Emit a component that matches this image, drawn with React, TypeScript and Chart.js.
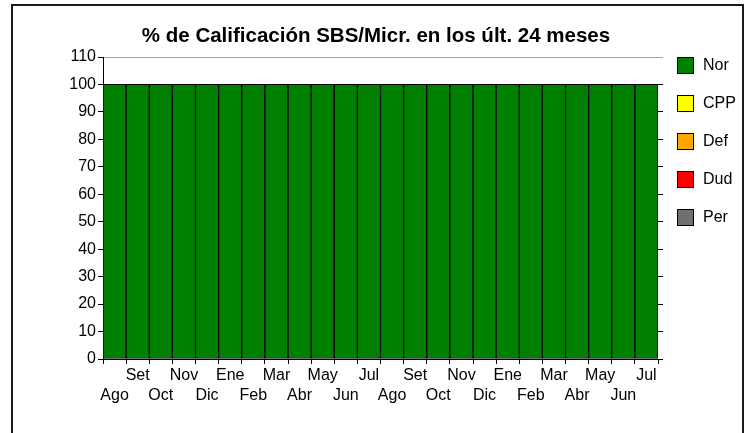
import React, { useEffect, useRef } from 'react';
import { Chart, registerables } from 'chart.js';

Chart.register(...registerables);

const chartTitle = '% de Calificación SBS/Micr. en los últ. 24 meses';
const months = ['Ago', 'Set', 'Oct', 'Nov', 'Dic', 'Ene', 'Feb', 'Mar', 'Abr', 'May', 'Jun', 'Jul',
  'Ago', 'Set', 'Oct', 'Nov', 'Dic', 'Ene', 'Feb', 'Mar', 'Abr', 'May', 'Jun', 'Jul'];
const seriesNames = ['Nor', 'CPP', 'Def', 'Dud', 'Per'];
const seriesColors = ['#008000', '#FFFF00', '#FFA500', '#FF0000', '#707070'];
const norValues = [100, 100, 100, 100, 100, 100, 100, 100, 100, 100, 100, 100,
  100, 100, 100, 100, 100, 100, 100, 100, 100, 100, 100, 100];
const cppValues = [0, 0, 0, 0, 0, 0, 0, 0, 0, 0, 0, 0, 0, 0, 0, 0, 0, 0, 0, 0, 0, 0, 0, 0];
const defValues = [0, 0, 0, 0, 0, 0, 0, 0, 0, 0, 0, 0, 0, 0, 0, 0, 0, 0, 0, 0, 0, 0, 0, 0];
const dudValues = [0, 0, 0, 0, 0, 0, 0, 0, 0, 0, 0, 0, 0, 0, 0, 0, 0, 0, 0, 0, 0, 0, 0, 0];
const perValues = [0, 0, 0, 0, 0, 0, 0, 0, 0, 0, 0, 0, 0, 0, 0, 0, 0, 0, 0, 0, 0, 0, 0, 0];
const yMin = 0;
const yMax = 110;
const yStep = 10;

const FONT = '"Liberation Sans", Arial, sans-serif';

const framePlugin = {
  id: 'frame',
  beforeDraw(chart: any) {
    const ctx = chart.ctx;
    ctx.save();
    ctx.fillStyle = '#ffffff';
    ctx.fillRect(0, 0, chart.width, chart.height);
    ctx.strokeStyle = '#1a1a1a';
    ctx.lineWidth = 2;
    ctx.strokeRect(12, 5, 731, 600);
    ctx.restore();
  },
};

const sideLegendPlugin = {
  id: 'sideLegend',
  afterDraw(chart: any) {
    const { ctx, chartArea } = chart;
    ctx.save();
    chart.data.datasets.forEach((ds: any, i: number) => {
      const x = chartArea.right + 19;
      const y = chartArea.top + i * 38;
      ctx.fillStyle = ds.backgroundColor;
      ctx.fillRect(x, y, 17, 17);
      ctx.strokeStyle = '#000';
      ctx.lineWidth = 1;
      ctx.strokeRect(x + 0.5, y + 0.5, 16, 16);
      ctx.fillStyle = '#000';
      ctx.font = '16px ' + FONT;
      ctx.textBaseline = 'middle';
      ctx.textAlign = 'left';
      ctx.fillText(ds.label, x + 26, y + 9);
    });
    ctx.restore();
  },
};

export default function App() {
  const canvasRef = useRef<HTMLCanvasElement | null>(null);

  useEffect(() => {
    if (!canvasRef.current) return;
    const valueSets = [norValues, cppValues, defValues, dudValues, perValues];
    const chart = new Chart(canvasRef.current, {
      type: 'bar',
      data: {
        labels: months,
        datasets: seriesNames.map((name, i) => ({
          label: name,
          data: valueSets[i],
          backgroundColor: seriesColors[i],
          borderColor: '#000000',
          borderWidth: 1,
          borderSkipped: false,
          barPercentage: 1,
          categoryPercentage: 1,
        })),
      },
      options: {
        responsive: false,
        maintainAspectRatio: false,
        animation: false,
        layout: { padding: { left: 3, right: 0, top: 0, bottom: 14 } },
        plugins: {
          legend: { display: false },
          tooltip: { enabled: false },
          title: {
            display: true,
            text: chartTitle,
            color: '#000',
            font: { family: FONT, size: 20.5, weight: 'bold', lineHeight: 1.2 },
            padding: { top: 24, bottom: 8.4 },
          },
        },
        scales: {
          x: {
            stacked: true,
            grid: {
              offset: true,
              drawOnChartArea: false,
              drawTicks: true,
              tickLength: 5,
              tickColor: '#000',
            },
            border: { color: '#000', width: 1 },
            ticks: {
              autoSkip: false,
              maxRotation: 0,
              minRotation: 0,
              padding: 2,
              color: '#000',
              font: { family: FONT, size: 16, lineHeight: 1.25 },
              callback: (_v: any, i: number) => (i % 2 === 0 ? ['', months[i]] : [months[i]]),
            },
            afterFit: (s: any) => { s.height = 60; },
          },
          y: {
            stacked: true,
            min: yMin,
            max: yMax,
            ticks: {
              stepSize: yStep,
              padding: 2,
              color: '#000',
              font: { family: FONT, size: 16 },
            },
            grid: {
              drawOnChartArea: true,
              color: (c: any) => (c.tick && c.tick.value === yMax ? '#a0a0a0' : 'rgba(0,0,0,0)'),
              tickLength: 5,
              tickColor: '#000',
            },
            border: { color: '#000', width: 1 },
            afterFit: (s: any) => { s.width = 100; },
          },
          y2: {
            position: 'right',
            min: yMin,
            max: yMax,
            ticks: { stepSize: yStep, display: false },
            grid: {
              drawOnChartArea: false,
              tickLength: 5,
              tickColor: (c: any) => (c.tick && c.tick.value === yMax ? '#a0a0a0' : '#000'),
            },
            border: { display: false },
            afterFit: (s: any) => { s.width = 91; },
          },
        },
      } as any,
      plugins: [framePlugin, sideLegendPlugin],
    });
    return () => chart.destroy();
  }, []);

  return (
    <div style={{ position: 'absolute', left: 0, top: 0, width: 749, height: 433 }}>
      <canvas ref={canvasRef} width={749} height={433} />
    </div>
  );
}
